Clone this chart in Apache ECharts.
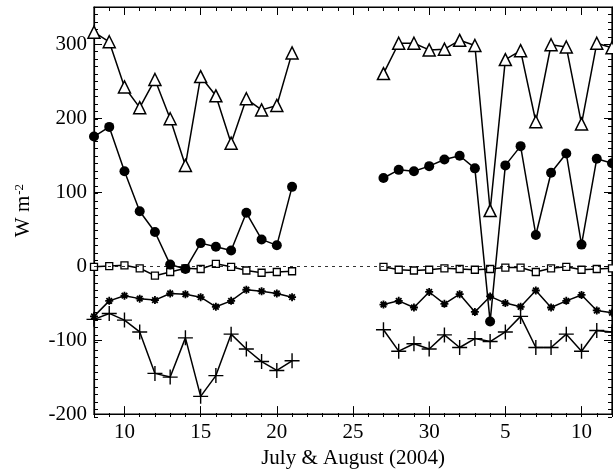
<!DOCTYPE html>
<html>
<head>
<meta charset="utf-8">
<script src="https://cdn.jsdelivr.net/npm/echarts@6/dist/echarts.min.js"></script>
<style>html,body{margin:0;padding:0;background:#fff}#c{width:613px;height:474px}</style>
</head>
<body>
<div id="c"></div>
<script>
// Days (July 8..21 and July 27..Aug 11 as continuing day numbers)
const daysA = [8,9,10,11,12,13,14,15,16,17,18,19,20,21];
const daysB = [27,28,29,30,31,32,33,34,35,36,37,38,39,40,41,42];

// Triangles (open)
const triA = [316,303,242,214,252,199,136,256,230,166,226,211,217,288];
const triB = [260,301,301,292,293,305,298,75,279,291,195,299,296,192,301,295];
// Filled circles
const cirA = [175,188,128,74,46,2,-4,31,26,21,72,36,28,107];
const cirB = [119,130,128,135,144,149,132,-75,136,162,42,126,152,29,145,139];
// Open squares
const sqA = [-1,0,1,-3,-13,-8,-3,-4,3,-1,-6,-9,-8,-7];
const sqB = [-1,-5,-6,-5,-3,-4,-5,-4,-2,-2,-8,-3,-1,-5,-4,-3];
// Asterisks
const astA = [-68,-47,-40,-44,-46,-37,-38,-42,-55,-47,-32,-34,-37,-42];
const astB = [-52,-47,-56,-35,-51,-38,-62,-41,-50,-55,-33,-56,-47,-39,-60,-63];
// Plus
const plA = [-72,-64,-73,-89,-145,-150,-97,-176,-148,-92,-112,-129,-141,-128];
const plB = [-86,-115,-105,-112,-93,-110,-98,-102,-89,-68,-110,-110,-92,-115,-87,-89];

const xMajor = [10,15,20,25,30,35,40];
const FONT = 'Liberation Serif';

function pairs(days, vals){ return days.map((d,i)=>[d, vals[i]]); }

const markers = {
  tri: {symbol:'triangle', symbolSize:12, itemStyle:{color:'#fff', borderColor:'#000', borderWidth:1.5}},
  cir: {symbol:'circle', symbolSize:10, itemStyle:{color:'#000', borderColor:'#000', borderWidth:0}},
  sq:  {symbol:'rect', symbolSize:7, itemStyle:{color:'#fff', borderColor:'#000', borderWidth:1.3}},
  ast: {symbol:'path://M-1,0L1,0M0,-1L0,1M-0.7,-0.7L0.7,0.7M-0.7,0.7L0.7,-0.7', symbolSize:8, itemStyle:{color:'#000', borderColor:'#000', borderWidth:1.8}},
  pl:  {symbol:'path://M-1,0L1,0M0,-1L0,1', symbolSize:15, itemStyle:{color:'#000', borderColor:'#000', borderWidth:1.4}}
};

const groups = [
  ['sq', sqA, sqB], ['ast', astA, astB], ['pl', plA, plB], ['cir', cirA, cirB], ['tri', triA, triB]
];
const series = [];
groups.forEach(([k,a,b])=>{
  [[daysA,a],[daysB,b]].forEach(([d,v])=>{
    series.push(Object.assign({
      type:'line', xAxisIndex:0, yAxisIndex:0, data:pairs(d,v),
      lineStyle:{color:'#000', width:1.5}, showSymbol:true, animation:false, clip:false, z:3
    }, markers[k]));
  });
});
series.push({
  type:'line', data:[], xAxisIndex:0, yAxisIndex:0, animation:false,
  markLine:{silent:true, symbol:['none','none'], label:{show:false},
    lineStyle:{color:'#000', width:0.8, type:[3,4]}, data:[{yAxis:0}]}
});

const axLine = {show:true, onZero:false, lineStyle:{color:'#000', width:1.2}};
const noLine = {show:false, onZero:false};
const labelStyle = {color:'#000', fontFamily:FONT, fontSize:21};
const gridRect = {left:94, right:1, top:7, bottom:57, containLabel:false};

const option = {
  backgroundColor:'#fff',
  grid:[Object.assign({show:true, borderColor:'#000', borderWidth:1.2, backgroundColor:'transparent'}, gridRect), Object.assign({}, gridRect)],
  xAxis:[
    {gridIndex:0, type:'value', position:'bottom', min:8, max:42, axisLine:axLine,
     axisTick:{show:true, inside:true, length:8, customValues:xMajor, lineStyle:{color:'#000'}},
     axisLabel:Object.assign({show:true, margin:8, customValues:xMajor, formatter:v=> String(v>31? v-30 : v)}, labelStyle),
     splitLine:{show:false},
     name:'July & August (2004)', nameLocation:'middle', nameGap:30,
     nameTextStyle:{color:'#000', fontFamily:FONT, fontSize:21}},
    {gridIndex:0, type:'value', position:'top', min:8, max:42, axisLine:axLine,
     axisTick:{show:true, inside:true, length:8, customValues:xMajor, lineStyle:{color:'#000'}},
     axisLabel:{show:false}, splitLine:{show:false}},
    {gridIndex:1, type:'value', position:'bottom', min:8, max:42, interval:1, axisLine:noLine,
     axisTick:{show:true, inside:true, length:4, lineStyle:{color:'#000'}}, axisLabel:{show:false}, splitLine:{show:false}},
    {gridIndex:1, type:'value', position:'top', min:8, max:42, interval:1, axisLine:noLine,
     axisTick:{show:true, inside:true, length:4, lineStyle:{color:'#000'}}, axisLabel:{show:false}, splitLine:{show:false}}
  ],
  yAxis:[
    {gridIndex:0, type:'value', position:'left', min:-200, max:350, interval:100, axisLine:axLine,
     axisTick:{show:true, inside:true, length:8, lineStyle:{color:'#000'}},
     axisLabel:Object.assign({show:true, margin:7, showMaxLabel:false}, labelStyle),
     splitLine:{show:false},
     name:'{b|W m}{s|-2}', nameLocation:'middle', nameGap:60, nameRotate:90,
     nameTextStyle:{color:'#000', fontFamily:FONT, fontSize:21,
       rich:{b:{fontFamily:FONT, fontSize:21, color:'#000'}, s:{fontFamily:FONT, fontSize:13, color:'#000', verticalAlign:'top', padding:[0,0,0,1]}}}},
    {gridIndex:0, type:'value', position:'right', min:-200, max:350, interval:100, axisLine:axLine,
     axisTick:{show:true, inside:true, length:8, lineStyle:{color:'#000'}}, axisLabel:{show:false}, splitLine:{show:false}},
    {gridIndex:1, type:'value', position:'left', min:-200, max:350, interval:10, axisLine:noLine,
     axisTick:{show:true, inside:true, length:4, lineStyle:{color:'#000'}}, axisLabel:{show:false}, splitLine:{show:false}},
    {gridIndex:1, type:'value', position:'right', min:-200, max:350, interval:10, axisLine:noLine,
     axisTick:{show:true, inside:true, length:4, lineStyle:{color:'#000'}}, axisLabel:{show:false}, splitLine:{show:false}}
  ],
  series:series
};
const chart = echarts.init(document.getElementById('c'), null, {renderer:'canvas'});
chart.setOption(option);
</script>
</body>
</html>
